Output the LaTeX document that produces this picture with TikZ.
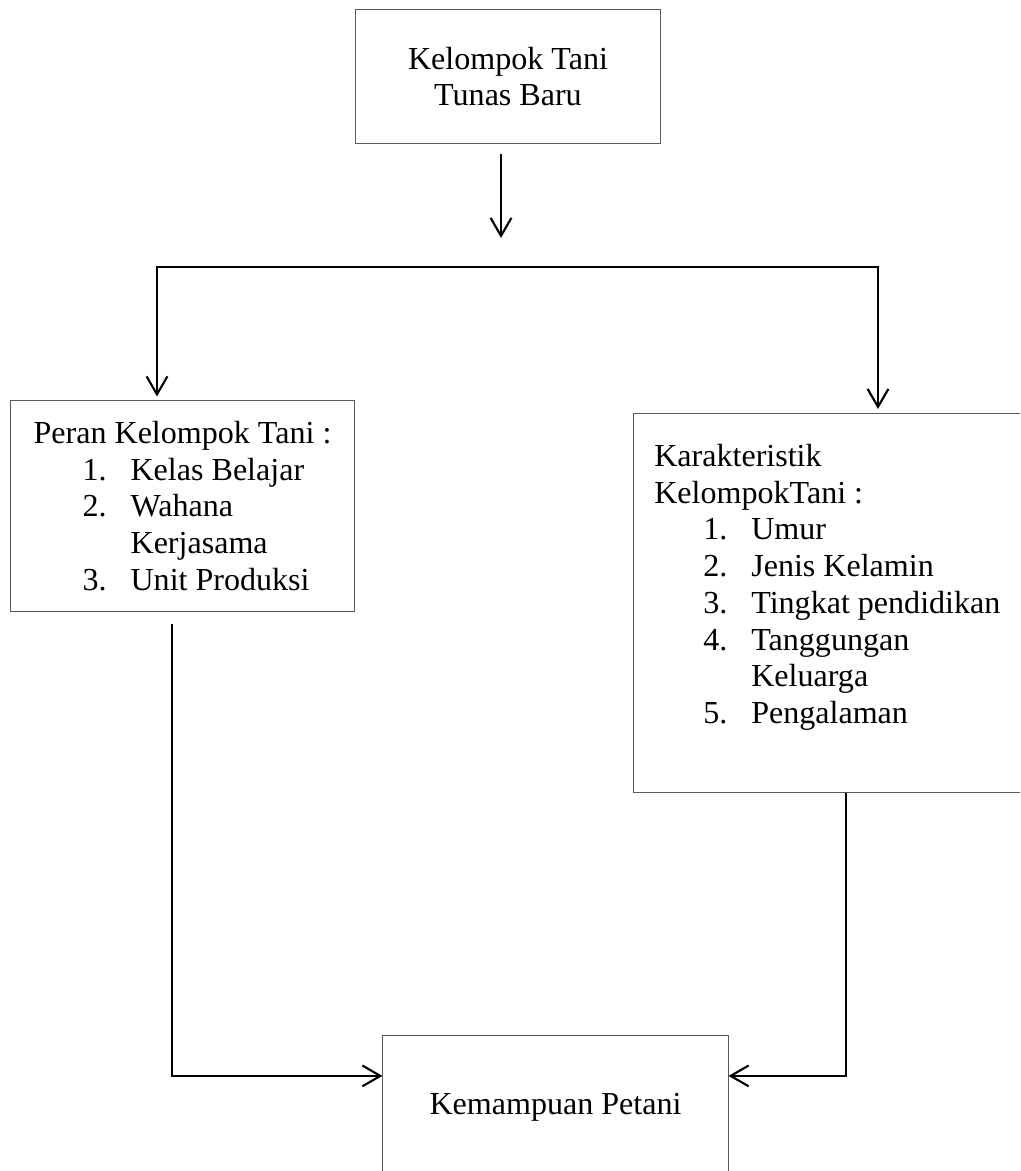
\documentclass[tikz,border=0pt]{standalone}
\usepackage{fontspec}
\setmainfont{Liberation Serif}
\usetikzlibrary{positioning, arrows.meta, calc}
\definecolor{boxLine}{HTML}{5A5A5A}
\newcommand{\numitem}[2]{\hspace*{1.225cm}\makebox[1.2cm][l]{#1}#2}
\newcommand{\numcont}[1]{\hspace*{2.425cm}#1}

\begin{document}
\begin{tikzpicture}[x=0.025cm, y=-0.025cm,
  >={Straight Barb[length=4.5mm, width=5.2mm]},
  box/.style={draw=boxLine, line width=0.7pt, inner sep=0pt},
  lbl/.style={font=\fontsize{22.8pt}{26.1pt}\selectfont, align=left},
  conn/.style={line width=1.5pt},
]
\clip (0,0) rectangle (1020,1171);

% kotak
\node[box, lbl, align=center, minimum width=7.6cm, minimum height=3.325cm]
      (tani) at (508,76.5) {Kelompok Tani\\Tunas Baru};
\node[box, lbl, minimum width=8.575cm, minimum height=5.25cm]
      (peran) at (182.5,506)
      {Peran Kelompok Tani :\\
       \numitem{1.}{Kelas Belajar}\\
       \numitem{2.}{Wahana}\\
       \numcont{Kerjasama}\\
       \numitem{3.}{Unit Produksi}};
\node[box, minimum width=10cm, minimum height=9.475cm, anchor=north west]
      (kar) at (633,413) {};
\node[lbl, inner sep=0pt, anchor=north west] (karTeks) at (654,444)
      {Karakteristik\\
       KelompokTani :\\
       \numitem{1.}{Umur}\\
       \numitem{2.}{Jenis Kelamin}\\
       \numitem{3.}{Tingkat pendidikan}\\
       \numitem{4.}{Tanggungan}\\
       \numcont{Keluarga}\\
       \numitem{5.}{Pengalaman}};
\node[box, lbl, minimum width=8.625cm, minimum height=3.625cm]
      (hasil) at (555.5,1107.5) {Kemampuan Petani};

% panah
\coordinate (turun) at (501,238);
\coordinate (cabKiri) at (157,267);
\coordinate (cabKanan) at (878,267);
\coordinate (kiriBawah) at (172,624);
\coordinate (kananBawah) at (846,0);

\draw[conn, ->] ([yshift=-0.25cm]tani.south -| turun) -- (turun);
\draw[conn, <->] ([yshift=0.1cm]cabKiri |- peran.north) -- (cabKiri)
      -- (cabKanan) -- ([yshift=0.1cm]cabKanan |- kar.north);
\draw[conn, ->] (kiriBawah) |- ([yshift=0.79cm]hasil.west);
\draw[conn, ->] (kar.south -| kananBawah) |- ([yshift=0.79cm]hasil.east);
\end{tikzpicture}
\end{document}
